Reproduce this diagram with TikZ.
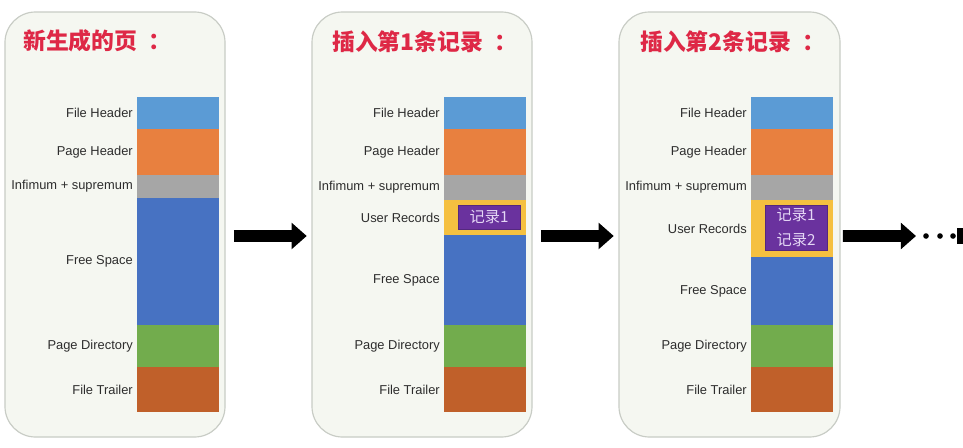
\documentclass[tikz,border=0pt]{standalone}
\usepackage{fontspec}
\newfontfamily\cjk{Noto Sans CJK SC}
\newfontfamily\labfont{Liberation Sans}
\usetikzlibrary{arrows.meta,fit}
\definecolor{panelbg}{RGB}{245,247,241}
\definecolor{panelline}{RGB}{200,204,197}
\definecolor{titlered}{RGB}{222,40,70}
\definecolor{labgray}{RGB}{45,45,45}
\definecolor{fhblue}{RGB}{91,155,213}
\definecolor{phorange}{RGB}{232,128,63}
\definecolor{infgray}{RGB}{166,166,166}
\definecolor{fsblue}{RGB}{71,114,194}
\definecolor{pdgreen}{RGB}{114,172,77}
\definecolor{ftbrown}{RGB}{192,96,42}
\definecolor{uryellow}{RGB}{245,192,64}
\definecolor{recpurple}{RGB}{106,50,158}
\definecolor{reclilac}{RGB}{228,214,245}

% one column of the page: #1 left x, #2 name prefix, #3 top/bottom/colour/label
\newcommand\pagestack[3]{%
  \foreach \t/\b/\c/\l [count=\i] in {#3}{
    \fill[\c] (#1,\t) rectangle (#1+82,\b);
    \node[lab] (#2\i) at (#1-4,{(\t+\b)/2}) {\l};
  }%
}
\newcommand\tcolon{\kern0.5em：}

\begin{document}
\begin{tikzpicture}[x=0.03cm,y=-0.03cm,
  panel/.style={draw=panelline,fill=panelbg,line width=1pt,rounded corners=26pt,inner sep=0pt},
  title/.style={text=titlered,anchor=west,inner sep=0pt,font=\cjk\bfseries\fontsize{19.5}{20}\selectfont},
  lab/.style={anchor=east,inner sep=0pt,text=labgray,font=\labfont\fontsize{11}{12}\selectfont},
  rec/.style={fill=recpurple,draw=recpurple!80!black,text=reclilac,inner sep=0pt,align=center,
    minimum width=1.86cm,font=\cjk\fontsize{13}{21}\selectfont},
  bigarrow/.style={line width=10pt,-{Triangle[length=13pt,width=22pt]}}]
  \fill[white] (0,0) rectangle (963,447);
  \useasboundingbox (0,0) rectangle (963,447);

  % the three pages
  \node[panel,fit={(5,12) (225,437)}] (p1) {};
  \node[panel,fit={(312,12) (532,437)}] (p2) {};
  \node[panel,fit={(619,12) (840,437)}] (p3) {};

  \node[title] (t1) at (23,41) {新生成的页\tcolon};
  \node[title] (t2) at (332,42) {插入第1条记录\tcolon};
  \node[title] (t3) at (640,42) {插入第2条记录\tcolon};

  \pagestack{137}{a}{97/129/fhblue/File Header,129/175/phorange/Page Header,
    175/198/infgray/Infimum + supremum,198/325/fsblue/Free Space,
    325/367/pdgreen/Page Directory,367/412/ftbrown/File Trailer}
  \pagestack{444}{b}{97/129/fhblue/File Header,129/175/phorange/Page Header,
    175/200/infgray/Infimum + supremum,200/235/uryellow/User Records,
    235/325/fsblue/Free Space,325/367/pdgreen/Page Directory,367/412/ftbrown/File Trailer}
  \pagestack{751}{c}{97/129/fhblue/File Header,129/175/phorange/Page Header,
    175/200/infgray/Infimum + supremum,200/257/uryellow/User Records,
    257/325/fsblue/Free Space,325/367/pdgreen/Page Directory,367/412/ftbrown/File Trailer}

  % records
  \node[rec,minimum height=0.72cm] (r1) at (489,217) {记录1};
  \node[rec,minimum height=1.35cm] (r2) at (796,227.5) {记录1\\记录2};

  % arrows between pages
  \coordinate (more) at (916,236);
  \draw[bigarrow,shorten <=7pt,shorten >=4pt] ([yshift=-9.8pt]p1.east) -- ([yshift=-9.8pt]p2.west);
  \draw[bigarrow,shorten <=7pt,shorten >=4pt] ([yshift=-9.8pt]p2.east) -- ([yshift=-9.8pt]p3.west);
  \draw[bigarrow,shorten <=2pt] ([yshift=-9.8pt]p3.east) -- (more);
  \foreach \x in {926,940,953} \fill (\x,236) circle (2.8);
  \fill (957,228) rectangle (968,244);
\end{tikzpicture}
\end{document}
